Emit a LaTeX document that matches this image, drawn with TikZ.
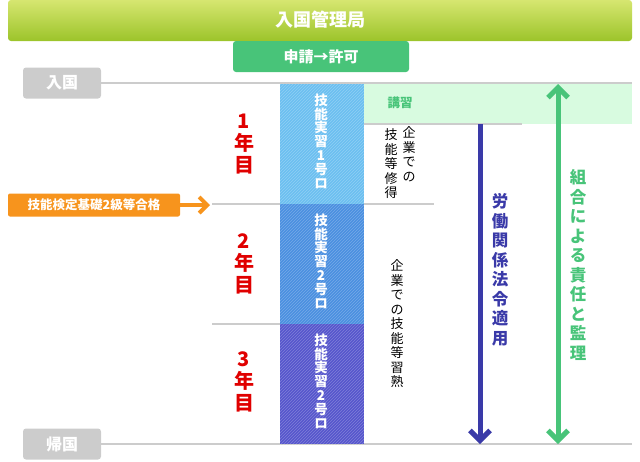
\documentclass[tikz,border=0pt]{standalone}
\usepackage{fontspec}
\setmainfont{Noto Sans CJK JP}
\usetikzlibrary{patterns,arrows.meta}
\definecolor{ggreen}{HTML}{48C479}
\definecolor{lgreen}{HTML}{D8FBE0}
\definecolor{grayb}{HTML}{CCCCCC}
\definecolor{b1}{HTML}{6CBFF0}
\definecolor{b2}{HTML}{4A8FE0}
\definecolor{b3}{HTML}{5656CC}
\definecolor{navy}{HTML}{3A3AA8}
\definecolor{redt}{HTML}{E00000}
\definecolor{orng}{HTML}{F7941D}
\tikzset{
 vtext/.style={align=center,font=\bfseries\fontsize{13.5}{13.8}\selectfont,inner sep=0pt},
 wt/.style={text=white,font=\bfseries\fontsize{15}{17}\selectfont},
 gline/.style={draw=grayb,line width=1.5pt},
 graybox/.style={fill=grayb,rounded corners=3pt,text=white,font=\bfseries\fontsize{16}{18}\selectfont},
 ytext/.style={vtext,text=redt,font=\bfseries\fontsize{20}{22}\selectfont},
 ktext/.style={align=center,font=\fontsize{13}{14.5}\selectfont,inner sep=0pt},
 bigv/.style={vtext,font=\bfseries\fontsize{16.5}{19.5}\selectfont},
}
\begin{document}
\begin{tikzpicture}[x=1pt,y=-1pt]
\useasboundingbox (0,0) rectangle (640,461);
\shade[rounded corners=3pt,
  top color={rgb,255:red,214;green,230;blue,112}, bottom color={rgb,255:red,156;green,196;blue,42}]
  (8,0) rectangle (632,41);
\node[wt,font=\bfseries\fontsize{18}{20}\selectfont] (top) at (320,20) {入国管理局};
\fill[ggreen,rounded corners=3pt] (233,41) rectangle (409,72);
\node[wt] (perm) at (321,57) {申請→許可};
\fill[lgreen] (364,84) rectangle (632,124);
\node[text=ggreen,font=\bfseries\fontsize{12.5}{14}\selectfont] (kosh) at (400,103) {講習};
\node[graybox,minimum width=78pt,minimum height=31pt] (in) at (62,83) {入国};
\node[graybox,minimum width=78pt,minimum height=31pt] (out) at (62,444) {帰国};
\coordinate (inE) at (632,83);
\coordinate (outE) at (632,444);
\draw[gline] (in.east) -- (inE);
\draw[gline] (out.east) -- (outE);
\draw[gline] (364,124) -- (522,124);
\draw[gline] (212,204) -- (434,204);
\draw[gline] (212,324) -- (364,324);
\fill[b1] (280,84) rectangle (364,204);
\fill[b2] (280,204) rectangle (364,324);
\fill[b3] (280,324) rectangle (364,444);
\fill[pattern=north east lines,pattern color=white,opacity=0.25] (280,84) rectangle (364,444);
\node[vtext,text=white] (c1) at (321,141) {技\\能\\実\\習\\1\\号\\ロ};
\node[vtext,text=white] (c2) at (321,261) {技\\能\\実\\習\\2\\号\\ロ};
\node[vtext,text=white] (c3) at (321,381) {技\\能\\実\\習\\2\\号\\ロ};
\node[ytext] (y1) at (244,144) {1\\年\\目};
\node[ytext] (y2) at (244,264) {2\\年\\目};
\node[ytext] (y3) at (244,382) {3\\年\\目};
\node[ktext] (k1) at (409,154) {企\\業\\で\\の};
\node[ktext] (k2) at (391,164) {技\\能\\等\\修\\得};
\node[ktext] (k3) at (397,324) {企\\業\\で\\の\\技\\能\\等\\習\\熟};
\node[fill=orng,text=white,font=\bfseries\fontsize{12.5}{14}\selectfont,rounded corners=2pt,minimum width=172pt,minimum height=23pt] (pass) at (94,205) {技能検定基礎2級等合格};
\coordinate (passE) at (210,205);
\draw[orng,line width=4pt,-{Straight Barb[length=8pt,width=16pt]}] (pass.east) -- (passE);
\coordinate (nS) at (480,124);
\coordinate (nE) at (480,444);
\draw[navy,line width=5pt,-{Straight Barb[length=10pt,width=20pt]}] (nS) -- (nE);
\node[bigv,text=navy] (law) at (500,270) {労\\働\\関\\係\\法\\令\\適\\用};
\coordinate (gS) at (558,84);
\coordinate (gE) at (558,444);
\draw[ggreen,line width=5pt,{Straight Barb[length=10pt,width=20pt]}-{Straight Barb[length=10pt,width=20pt]}] (gS) -- (gE);
\node[bigv,text=ggreen] (resp) at (578,265) {組\\合\\に\\よ\\る\\責\\任\\と\\監\\理};
\end{tikzpicture}
\end{document}
